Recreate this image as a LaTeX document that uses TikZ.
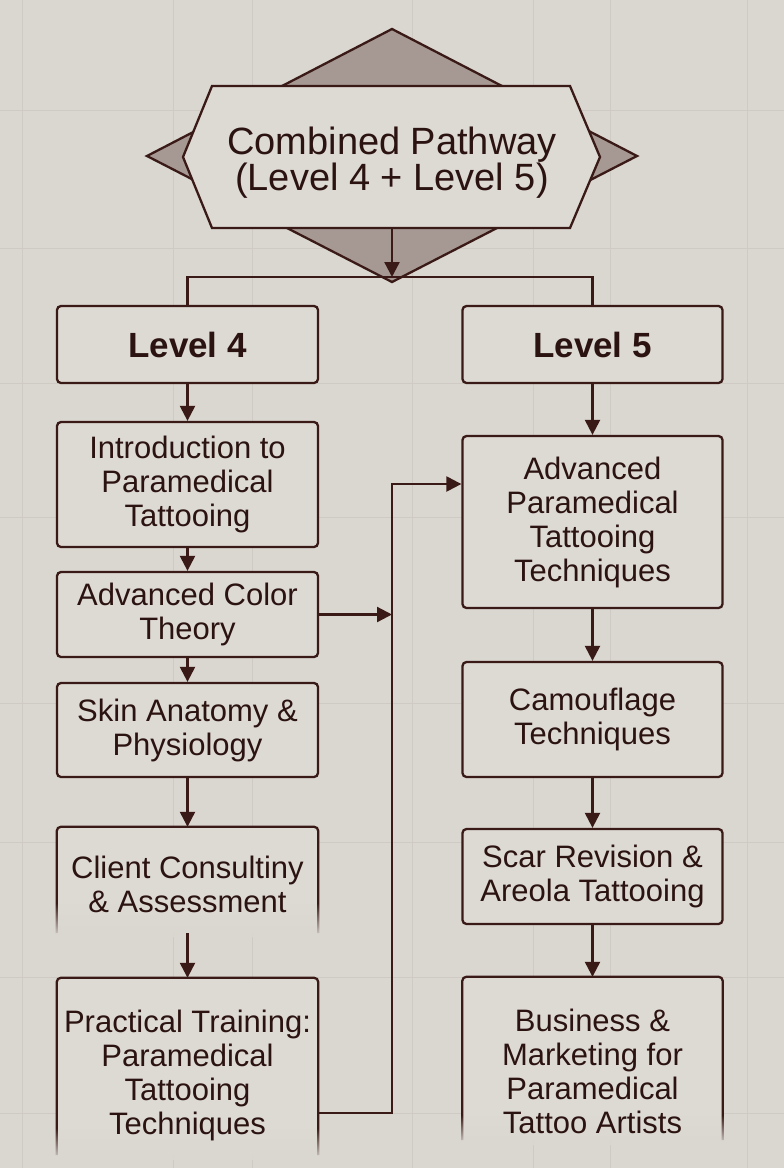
\documentclass[tikz,border=0pt]{standalone}
\usepackage{fontspec}
\setmainfont{Liberation Sans}
\usetikzlibrary{arrows.meta,fadings}
\definecolor{bgc}{HTML}{DAD6D0}
\definecolor{boxc}{HTML}{DDD9D3}
\definecolor{ln}{HTML}{3A1A17}
\definecolor{txc}{HTML}{2B1311}
\definecolor{dia}{HTML}{A69893}
\definecolor{gridc}{HTML}{CFCAC4}
\tikzfading[name=fadedown, top color=transparent!100, bottom color=transparent!0]
\begin{document}
\begin{tikzpicture}[x=1pt,y=-1pt,
  box/.style={draw=ln, line width=2.3pt, rounded corners=4pt, fill=boxc, minimum width=261pt, text=txc, align=center, font=\fontsize{31}{34}\selectfont, inner sep=0pt},
  lvl/.style={box, font=\fontsize{35}{38}\selectfont\bfseries},
  openbox/.style={draw=none, fill=boxc, minimum width=261pt, inner sep=0pt},
  txt/.style={text=txc, align=center, font=\fontsize{31}{34}\selectfont, inner sep=0pt},
  arr/.style={draw=ln, line width=2.3pt, -{Triangle[length=15pt,width=15pt]}},
  con/.style={draw=ln, line width=2.3pt},
  outl/.style={draw=ln, line width=2.3pt, rounded corners=4pt},
  fadebox/.style={fill=bgc, path fading=fadedown}
  ]
% background
\fill[bgc] (0,0) rectangle (784,1168);
\useasboundingbox (0,0) rectangle (784,1168);
\foreach \gx in {22,173,252,412,533,610,747}
  \draw[gridc, line width=1pt] (\gx,0) -- (\gx,1168);
\foreach \gy in {110,248,383,517,703,842,977,1113}
  \draw[gridc, line width=1pt] (0,\gy) -- (784,\gy);

% title diamond + hexagon
\filldraw[fill=dia, draw=ln, line width=2.3pt] (392,29) -- (637,156) -- (392,282) -- (147,156) -- cycle;
\filldraw[fill=boxc, draw=ln, line width=2.3pt] (212,86) -- (570,86) -- (600,157) -- (570,228) -- (212,228) -- (183,157) -- cycle;
\node[txt, font=\fontsize{38}{36}\selectfont] (title) at (392,163) {Combined Pathway\\(Level 4 + Level 5)};
\coordinate (hexb) at (392,228);
\coordinate (split) at (392,277);

% level headers
\node[lvl, minimum height=77pt] (lv4) at (187.5,344.5) {Level 4};
\node[lvl, minimum height=77pt, minimum width=260pt] (lv5) at (592.5,344.5) {Level 5};

% left column
\node[box, minimum height=125pt] (intro) at (187.5,484.5) {Introduction to\\Paramedical\\Tattooing};
\node[box, minimum height=85pt] (color) at (187.5,614.5) {Advanced Color\\Theory};
\node[box, minimum height=94pt] (skin) at (187.5,730) {Skin Anatomy \&\\Physiology};
\node[openbox, minimum height=106pt] (cli) at (187.5,880) {};
\node[openbox, minimum height=177pt] (prac) at (187.5,1066.5) {};

% right column
\node[box, minimum height=172pt, minimum width=260pt] (adv) at (592.5,522) {Advanced\\Paramedical\\Tattooing\\Techniques};
\node[box, minimum height=115pt, minimum width=260pt] (cam) at (592.5,719.5) {Camouflage\\Techniques};
\node[box, minimum height=95pt, minimum width=260pt] (scar) at (592.5,876.5) {Scar Revision \&\\Areola Tattooing};
\node[openbox, minimum height=163pt, minimum width=260pt] (bus) at (592.5,1058.5) {};

% open box outlines with fading bottoms
\draw[outl] (cli.south west) -- (cli.north west) -- (cli.north east) -- (cli.south east);
\fill[fadebox] (48,903) rectangle (327,937);
\draw[outl] (prac.south west) -- (prac.north west) -- (prac.north east) -- (prac.south east);
\fill[fadebox] (48,1128) rectangle (327,1160);
\draw[outl] (bus.south west) -- (bus.north west) -- (bus.north east) -- (bus.south east);
\fill[fadebox] (452,1115) rectangle (732,1145);

% texts of open boxes
\node[txt] (cliT) at (187.5,884) {Client Consultiny\\\& Assessment};
\node[txt] (pracT) at (187.5,1075) {Practical Training:\\Paramedical\\Tattooing\\Techniques};
\node[txt] (busT) at (592.5,1071) {Business \&\\Marketing for\\Paramedical\\Tattoo Artists};

% connectors
\draw[arr] (hexb) -- (split);
\draw[con] (lv4.north) |- (split) -| (lv5.north);
\draw[arr] (lv4) -- (intro);
\draw[arr] (intro) -- (color);
\draw[arr] (color) -- (skin);
\draw[arr] (skin) -- (cli);
\draw[arr] (cli) -- (prac);
\draw[arr] (lv5) -- (adv);
\draw[arr] (adv) -- (cam);
\draw[arr] (cam) -- (scar);
\draw[arr] (scar) -- (bus);
\coordinate (j1) at (392,1113);
\coordinate (h484) at (0,484);
\coordinate (j2) at (adv.west |- h484);
\draw[arr] (color.east) -- (color.east -| j1);
\draw[arr] (prac.east |- j1) -- (j1) |- (j2);
\end{tikzpicture}
\end{document}
